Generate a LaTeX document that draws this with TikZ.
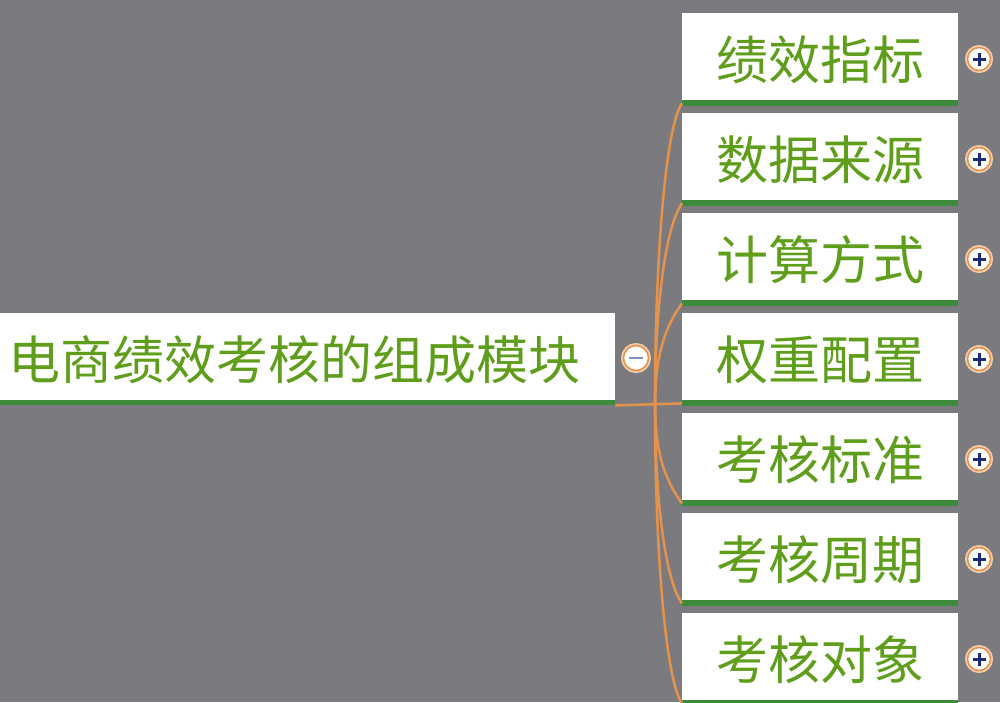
\documentclass[tikz,border=0pt]{standalone}
\usepackage{fontspec}
\newfontfamily\cjk{Noto Sans CJK SC}
\usetikzlibrary{calc}
\definecolor{bg}{HTML}{7B7B7F}
\definecolor{txt}{HTML}{5E9E1A}
\definecolor{bar}{HTML}{3E8A3C}
\definecolor{link}{HTML}{E5934C}
\definecolor{plusc}{HTML}{1C2C7C}
\definecolor{minusc}{HTML}{8090C8}
\newcommand{\lowtxt}[1]{\raisebox{-3pt}[\height][\depth]{#1}}
\tikzset{
  box/.style={fill=white, minimum width=276pt, minimum height=87pt, inner sep=0pt,
    anchor=north west, font=\cjk\fontsize{52}{52}\selectfont, text=txt},
  rootbox/.style={fill=white, text width=599pt, inner xsep=8pt, inner ysep=0pt,
    minimum height=87pt, align=left, anchor=north west,
    font=\cjk\fontsize{52}{52}\selectfont, text=txt},
  barfill/.style={fill=bar},
  linkline/.style={draw=link, line width=2.5pt},
  btn/.style={circle, fill=white, draw=link, line width=1.6pt, minimum size=#1, inner sep=0pt,
    preaction={draw=link!45, line width=5pt}},
  minusbtn/.style={btn=25pt, path picture={\draw[minusc, line width=2.8pt]
    ($(path picture bounding box.center)+(-7,0)$) -- ($(path picture bounding box.center)+(7,0)$);}},
  plusbtn/.style={btn=23pt, path picture={\draw[plusc, line width=3pt]
    ($(path picture bounding box.center)+(-6.5,0)$) -- ($(path picture bounding box.center)+(6.5,0)$)
    ($(path picture bounding box.center)+(0,-6.5)$) -- ($(path picture bounding box.center)+(0,6.5)$);}},
}
\begin{document}
\begin{tikzpicture}[x=1pt,y=-1pt]
\fill[bg] (0,0) rectangle (1000,702);
\useasboundingbox (0,0) rectangle (1000,702);
% root
\node[rootbox] (root) at (0,313) {\lowtxt{电商绩效考核的组成模块}};
\fill[barfill] (root.south west) rectangle ($(root.south east)+(0,5)$);
\coordinate (rout) at ($(root.south east)+(0,5)$);
\coordinate (fork) at (655,405);
% children
\foreach \i/\t in {1/绩效指标,2/数据来源,3/计算方式,4/权重配置,5/考核标准,6/考核周期,7/考核对象}{
  \node[box] (c\i) at (682,{13+100*(\i-1)}) {\lowtxt{\t}};
  \fill[barfill] (c\i.south west) rectangle ($(c\i.south east)+(0,6)$);
  \coordinate (in\i) at ($(c\i.south west)+(0,3)$);
  \node[plusbtn] (p\i) at (979,{59+100*(\i-1)}) {};
}
% connectors
\draw[linkline] (rout) -- (in4);
\foreach \i in {1,2,3}{
  \draw[linkline] (fork) .. controls ($(fork)!0.5!(fork|-in\i)$) and ($(in\i)+(-16,22)$) .. (in\i);
}
\foreach \i in {5,6,7}{
  \draw[linkline] (fork) .. controls ($(fork)!0.5!(fork|-in\i)$) and ($(in\i)+(-16,-22)$) .. (in\i);
}
\node[minusbtn] (m) at (636,358) {};
\end{tikzpicture}
\end{document}
